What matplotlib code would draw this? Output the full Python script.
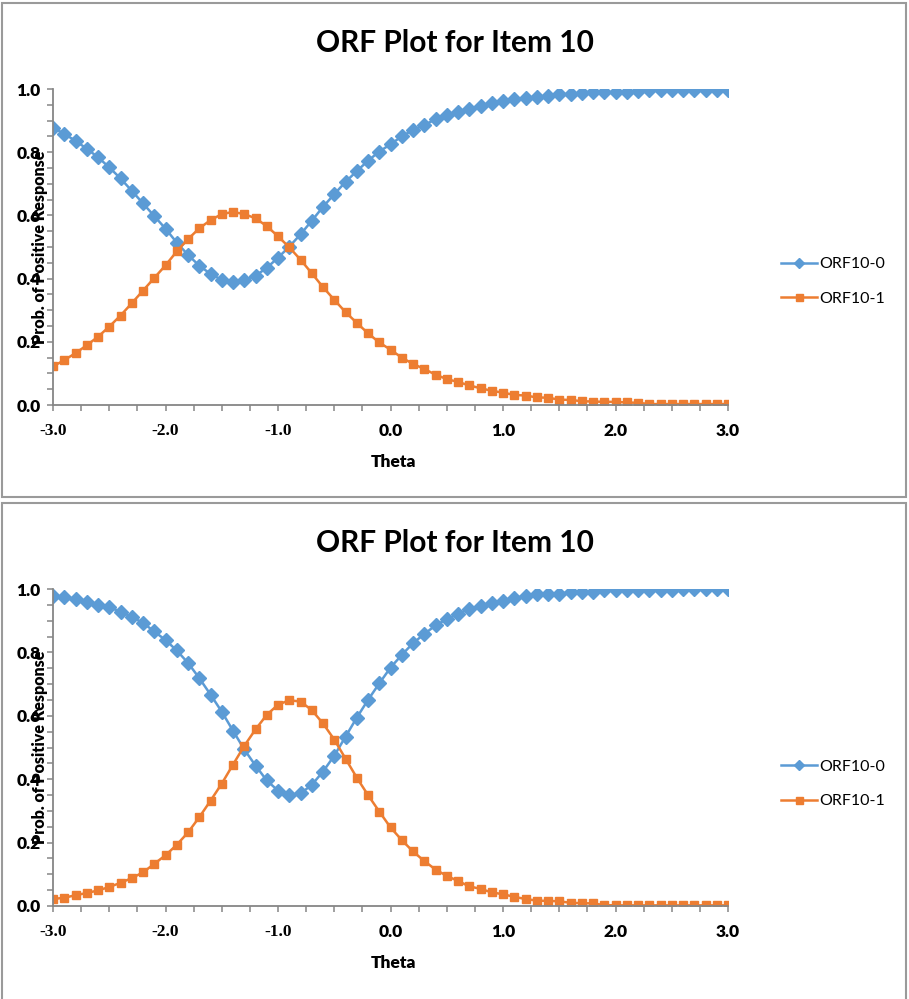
import numpy as np
import matplotlib
matplotlib.use('Agg')
import matplotlib.pyplot as plt
from matplotlib.ticker import MultipleLocator, FormatStrFormatter
from matplotlib.patches import Rectangle

plt.rcParams['font.family'] = ['Lato', 'DejaVu Sans']

# theta grid for the option response functions
theta = np.round(np.linspace(-3.0, 3.0, 61), 1)

# first chart
orf0_a = [0.878, 0.858, 0.836, 0.811, 0.784, 0.752, 0.717, 0.678, 0.638, 0.598,
          0.558, 0.514, 0.475, 0.441, 0.415, 0.396, 0.389, 0.396, 0.409, 0.434,
          0.466, 0.501, 0.540, 0.583, 0.627, 0.667, 0.706, 0.740, 0.773, 0.802,
          0.825, 0.850, 0.870, 0.886, 0.904, 0.918, 0.927, 0.938, 0.947, 0.955,
          0.961, 0.968, 0.970, 0.976, 0.977, 0.983, 0.984, 0.988, 0.989, 0.990,
          0.990, 0.992, 0.993, 0.997, 0.997, 0.997, 0.997, 0.997, 0.997, 0.997,
          0.997]
orf1_a = [0.122, 0.142, 0.164, 0.189, 0.216, 0.248, 0.283, 0.322, 0.362, 0.402,
          0.442, 0.486, 0.525, 0.559, 0.585, 0.604, 0.611, 0.604, 0.591, 0.566,
          0.534, 0.499, 0.460, 0.417, 0.373, 0.333, 0.294, 0.260, 0.227, 0.198,
          0.175, 0.150, 0.130, 0.114, 0.096, 0.082, 0.073, 0.062, 0.053, 0.045,
          0.039, 0.032, 0.030, 0.024, 0.023, 0.017, 0.016, 0.012, 0.011, 0.010,
          0.010, 0.008, 0.007, 0.003, 0.003, 0.003, 0.003, 0.003, 0.003, 0.003,
          0.003]

# second chart
orf0_b = [0.978, 0.976, 0.968, 0.960, 0.951, 0.942, 0.929, 0.912, 0.893, 0.866,
          0.839, 0.806, 0.767, 0.719, 0.667, 0.613, 0.553, 0.494, 0.443, 0.396,
          0.364, 0.350, 0.355, 0.382, 0.424, 0.474, 0.534, 0.594, 0.650, 0.702,
          0.752, 0.792, 0.829, 0.858, 0.885, 0.905, 0.921, 0.938, 0.946, 0.957,
          0.963, 0.971, 0.978, 0.983, 0.984, 0.985, 0.990, 0.990, 0.992, 0.996,
          0.997, 0.997, 0.997, 0.997, 0.997, 0.997, 0.999, 0.999, 0.999, 0.999,
          0.999]
orf1_b = [0.022, 0.026, 0.034, 0.041, 0.049, 0.060, 0.073, 0.088, 0.106, 0.133,
          0.160, 0.193, 0.232, 0.280, 0.332, 0.386, 0.446, 0.505, 0.557, 0.603,
          0.635, 0.649, 0.645, 0.618, 0.576, 0.525, 0.465, 0.405, 0.350, 0.298,
          0.248, 0.208, 0.172, 0.142, 0.115, 0.095, 0.079, 0.062, 0.054, 0.043,
          0.037, 0.029, 0.022, 0.017, 0.016, 0.015, 0.010, 0.009, 0.008, 0.003,
          0.002, 0.002, 0.002, 0.002, 0.002, 0.002, 0.002, 0.002, 0.002, 0.002,
          0.002]

title = "ORF Plot for Item 10"
series_names = ["ORF10-0", "ORF10-1"]
x_ticks = [-3, -2, -1, 0, 1, 2, 3]
x_tick_labels = ["-3.0", "-2.0", "-1.0", "0.0", "1.0", "2.0", "3.0"]

BLUE = '#5B9BD5'
ORANGE = '#ED7D31'
AXIS_GREY = '#868686'
FRAME_GREY = '#9A9A9A'

W, H = 909, 999
fig = plt.figure(figsize=(W / 100, H / 100), dpi=100)


def draw_chart(top_px, bottom_px, frame_top, frame_bottom, p0, p1, legend_y):
    # chart frame
    fig.patches.append(Rectangle((1.5 / W, 1 - frame_bottom / H), 904 / W,
                                 (frame_bottom - frame_top) / H,
                                 transform=fig.transFigure, fill=False,
                                 edgecolor=FRAME_GREY, linewidth=1.5))

    ax = fig.add_axes([53 / W, 1 - bottom_px / H, 675 / W, (bottom_px - top_px) / H])
    ax.plot(theta, p0, color=BLUE, lw=1.8, marker='D', ms=7, label=series_names[0])
    ax.plot(theta, p1, color=ORANGE, lw=1.8, marker='s', ms=6.3, label=series_names[1])

    ax.set_xlim(-3, 3)
    ax.set_ylim(0, 1)
    ax.set_xticks(x_ticks)
    ax.set_xticklabels(x_tick_labels)
    ax.xaxis.set_minor_locator(MultipleLocator(0.25))
    ax.yaxis.set_major_locator(MultipleLocator(0.2))
    ax.yaxis.set_minor_locator(MultipleLocator(0.05))
    ax.yaxis.set_major_formatter(FormatStrFormatter('%.1f'))

    for side in ('top', 'right'):
        ax.spines[side].set_visible(False)
    for side in ('left', 'bottom'):
        ax.spines[side].set_color(AXIS_GREY)
        ax.spines[side].set_linewidth(1.3)

    ax.tick_params(which='both', direction='out', length=4, width=1.1, color=AXIS_GREY)
    ax.tick_params(axis='x', which='major', pad=9)
    ax.tick_params(axis='y', which='major', pad=5)
    for lab in ax.get_xticklabels() + ax.get_yticklabels():
        lab.set_fontweight('heavy')
        lab.set_fontsize(12.5)
    # negative theta labels come out in a serif face
    for lab in ax.get_xticklabels():
        if lab.get_text().startswith('-'):
            lab.set_family('Liberation Serif')
            lab.set_fontweight('bold')

    fig.text(455 / W, 1 - (top_px - 46) / H, title, ha='center', va='center',
             fontsize=21.5, fontweight='bold')
    fig.text(40 / W, 1 - (top_px + bottom_px) / 2 / H, "Prob. of Positive Response",
             rotation=90, ha='center', va='center', fontsize=11.5, fontweight='heavy')
    fig.text(393 / W, 1 - (bottom_px + 57) / H, "Theta", ha='center', va='center',
             fontsize=12.5, fontweight='heavy')

    ax.legend(loc='center left', bbox_to_anchor=(1.066, legend_y), frameon=False,
              fontsize=11.5, handlelength=2.3, handletextpad=0.15, labelspacing=1.25,
              borderpad=0, markerscale=0.8)
    return ax


draw_chart(89, 405, 3, 497, orf0_a, orf1_a, 0.391)
draw_chart(589, 906, 503, 1001, orf0_b, orf1_b, 0.385)

fig.savefig('out.png', dpi=100)
